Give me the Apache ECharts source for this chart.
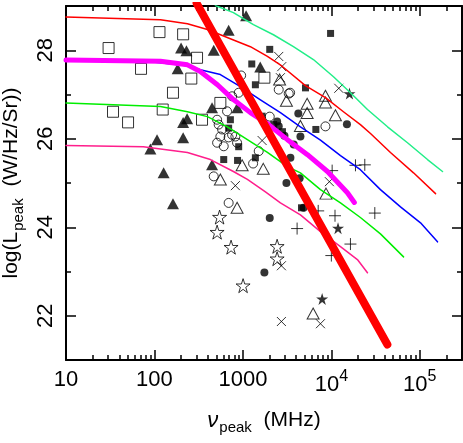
<!DOCTYPE html>
<html><head><meta charset="utf-8">
<script src="https://cdn.jsdelivr.net/npm/echarts@6/dist/echarts.min.js"></script>
<style>html,body{margin:0;padding:0;background:#fff}#c{width:463px;height:443px}</style>
</head><body><div id="c"></div>
<script>
// ---- tick values ----
const xMajorTicks = [10, 100, 1000, 10000, 100000];
const xMinorTicks = [20,30,40,50,60,70,80,90,200,300,400,500,600,700,800,900,2000,3000,4000,5000,6000,7000,8000,9000,20000,30000,40000,50000,60000,70000,80000,90000,200000];
const xTickLabels = {10:'10',100:'100',1000:'1000',10000:'{b|10}{p|4}',100000:'{b|10}{p|5}'};
const yMajorTicks = [22, 24, 26, 28];
const yMinorTicks = [21, 23, 25, 27, 29];

// ---- data points [nu_peak (MHz), log L_peak] ----
const openSquares = [[114,28.41],[211,28.36],[30.3,28.05],[303,27.83],[70.5,27.58],[261,27.36],[162,27.04],[556,26.81],[124,26.66],[34.0,26.61],[50.3,26.37],[345,26.43],[1750,27.38]];
const filledTriangles = [[1087,28.78],[690,28.45],[200,28.05],[230,27.99],[468,28.00],[183,27.58],[1570,27.62],[448,26.70],[865,26.70],[211,26.37],[234,26.45],[211,26.02],[107,25.98],[90,25.77],[127,25.23],[448,25.41],[162,24.53]];
const openCircles = [[955,27.43],[2541,27.11],[3297,27.02],[3420,27.04],[2011,26.50],[8576,26.28],[755,26.96],[896,27.04],[662,26.62],[511,26.43],[532,26.32],[582,26.21],[556,26.05],[511,25.91],[607,25.83],[690,26.03],[822,26.05],[859,25.91],[755,26.09],[1510,25.72],[1304,25.44],[468,25.15],[690,24.55]];
const filledCircles = [[4230,26.57],[15000,26.33],[2437,26.39],[2541,26.28],[4470,26.05],[3755,25.87],[3445,25.57],[3105,25.00],[4380,25.11],[4850,24.44],[2011,24.21],[1750,22.98],[2950,26.07]];
const filledSquares = [[9800,28.38],[2011,28.02],[1260,27.69],[1384,27.22],[5100,27.15],[1649,26.51],[2230,26.32],[6680,26.21],[2800,26.16],[722,26.43],[690,26.24],[896,25.82],[607,25.53],[870,25.51],[1384,25.57],[4600,24.44]];
const openTriangles = [[2600,27.34],[3105,26.86],[5324,26.79],[5324,26.58],[8576,26.97],[8576,26.82],[11120,26.53],[4470,26.29],[980,25.40],[1700,25.32],[556,25.08],[860,24.44],[8700,24.76],[6223,22.05]];
const crosses = [[2541,27.86],[2750,27.63],[2655,27.38],[12130,27.14],[1649,25.96],[822,24.94],[9500,25.03],[2725,23.13],[2725,21.87],[7530,21.82]];
const pluses = [[10210,25.28],[18740,25.40],[23880,25.41],[7100,24.37],[11000,24.26],[30990,24.32],[4100,23.97],[16440,23.62],[10000,23.36]];
const openStars = [[545,24.23],[511,23.89],[735,23.55],[2437,23.57],[2437,23.29],[1005,22.68]];
const filledStars = [[16030,27.02],[11900,23.98],[7870,22.38]];

// ---- model curves ----
const springGreenLine = [[489,29.01],[781,28.85],[1315,28.58],[2214,28.35],[3726,28.08],[6266,27.79],[10570,27.40],[16450,27.04],[25600,26.66],[43150,26.27],[72600,25.91],[122200,25.53],[180600,25.26]];
const redThinLine = [[10,28.75],[117,28.69],[236,28.60],[397,28.47],[721,28.26],[1215,28.08],[1893,27.86],[2725,27.65],[5090,27.20],[8576,26.93],[13700,26.61],[21300,26.32],[27700,26.12],[46600,25.69],[84900,25.23],[150700,24.76]];
const blueLine = [[10,27.77],[90,27.74],[242,27.65],[330,27.56],[556,27.45],[937,27.18],[1578,26.88],[2655,26.59],[4470,26.27],[7530,25.97],[12680,25.62],[21300,25.30],[35900,24.85],[60500,24.46],[101900,24.10],[158500,23.67]];
const greenLine = [[10,26.81],[117,26.73],[236,26.61],[397,26.50],[668,26.27],[1124,25.98],[1893,25.69],[3186,25.37],[4470,25.23],[7530,24.85],[12680,24.55],[21300,24.22],[35900,23.85],[65500,23.33]];
const pinkLine = [[10,25.85],[74.8,25.82],[236,25.69],[429,25.53],[781,25.26],[1124,25.08],[1798,24.80],[2655,24.55],[4470,24.28],[7530,23.90],[12680,23.56],[19700,23.27],[25600,22.97]];
const magentaLine = [[10,27.78],[117,27.75],[236,27.67],[330,27.52],[515,27.22],[787,26.88],[1215,26.59],[1893,26.34],[3186,25.98],[5370,25.64],[9040,25.26],[15200,24.78],[18200,24.56]];
const redThickLine = [[300,29.06],[43000,21.35]];

const FONT = 'Liberation Sans';
const X_MIN = 10, X_MAX = 300000, Y_MIN = 21, Y_MAX = 29;
const STAR = 'path://M50,0L61.2,34.5L97.6,34.5L68.2,55.9L79.4,90.5L50,69.1L20.6,90.5L31.8,55.9L2.4,34.5L38.8,34.5Z';
const CROSS = 'path://M0,0L10,10M10,0L0,10';
const PLUS = 'path://M5,0L5,10M0,5L10,5';

function xAxisDef(pos, ticks, len, showLabel, showLine) {
  return {
    type: 'log', logBase: 10, min: X_MIN, max: X_MAX, position: pos,
    axisLine: { show: showLine, onZero: false, lineStyle: { color: '#000', width: 2 } },
    axisTick: { show: true, inside: true, length: len, customValues: ticks, lineStyle: { color: '#000', width: 1.5 } },
    axisLabel: showLabel ? {
      show: true, customValues: xMajorTicks, margin: 9, color: '#000', fontFamily: FONT, fontSize: 22,
      formatter: v => xTickLabels[Math.round(v)] || '',
      rich: {
        b: { fontFamily: FONT, fontSize: 22, color: '#000', verticalAlign: 'top', padding: [5, 0, 0, 0] },
        p: { fontFamily: FONT, fontSize: 16, color: '#000', verticalAlign: 'top' }
      }
    } : { show: false },
    splitLine: { show: false }, minorTick: { show: false }, minorSplitLine: { show: false }
  };
}
function yAxisDef(pos, ticks, len, showLabel, showLine) {
  return {
    type: 'value', min: Y_MIN, max: Y_MAX, position: pos,
    axisLine: { show: showLine, onZero: false, lineStyle: { color: '#000', width: 2 } },
    axisTick: { show: true, inside: true, length: len, customValues: ticks, lineStyle: { color: '#000', width: 1.5 } },
    axisLabel: showLabel ? { show: true, customValues: yMajorTicks, rotate: 90, margin: 9, color: '#000', fontFamily: FONT, fontSize: 22 } : { show: false },
    splitLine: { show: false }
  };
}

const xAxes = [xAxisDef('bottom', xMajorTicks, 10, true, true), xAxisDef('bottom', xMinorTicks, 5, false, false), xAxisDef('top', xMajorTicks, 10, false, true), xAxisDef('top', xMinorTicks, 5, false, false)];
const yAxes = [yAxisDef('left', yMajorTicks, 10, true, true), yAxisDef('left', yMinorTicks, 5, false, false), yAxisDef('right', yMajorTicks, 10, false, true), yAxisDef('right', yMinorTicks, 5, false, false)];

xAxes[0].name = '{nu|ν}{s|peak}{a|  (MHz)}';
xAxes[0].nameLocation = 'middle';
xAxes[0].nameGap = 50;
xAxes[0].nameTextStyle = { rich: {
  nu: { fontFamily: FONT, fontSize: 22, fontStyle: 'italic', color: '#000', verticalAlign: 'top' },
  s: { fontFamily: FONT, fontSize: 15, color: '#000', verticalAlign: 'top', padding: [10, 0, 0, 1] },
  a: { fontFamily: FONT, fontSize: 21, color: '#000', verticalAlign: 'top' }
}};
yAxes[0].name = '{a|log(L}{s|peak}{a|  (W/Hz/Sr))}';
yAxes[0].nameLocation = 'middle';
yAxes[0].nameRotate = 90;
yAxes[0].nameGap = 40;
yAxes[0].nameTextStyle = { rich: {
  s: { fontFamily: FONT, fontSize: 15, color: '#000', verticalAlign: 'top', padding: [10, 0, 0, 1] },
  a: { fontFamily: FONT, fontSize: 21, color: '#000', verticalAlign: 'top' }
}};

function scatter(data, symbol, size, filled, z) {
  return {
    type: 'scatter', data, symbol, symbolSize: size, z: z || 2, silent: true,
    itemStyle: filled ? { color: '#000', borderWidth: 0 } : { color: 'rgba(0,0,0,0)', borderColor: '#000', borderWidth: 1 }
  };
}
function curve(data, color, width, z) {
  return {
    type: 'line', data, symbol: 'none', z, silent: true, clip: true,
    lineStyle: { color, width, cap: 'round', join: 'round' }
  };
}

const option = {
  animation: false,
  backgroundColor: '#fff',
  grid: { left: 66, right: 1, top: 6, bottom: 83, containLabel: false, outerBoundsMode: 'none' },
  xAxis: xAxes,
  yAxis: yAxes,
  series: [
    scatter(openSquares, 'rect', 11, false),
    scatter(filledTriangles, 'triangle', [12, 11], true),
    scatter(openCircles, 'circle', 9, false),
    scatter(filledCircles, 'circle', 8, true),
    scatter(filledSquares, 'rect', 7, true),
    scatter(openTriangles, 'triangle', [12, 11], false),
    scatter(crosses, CROSS, 9, false),
    scatter(pluses, PLUS, 12, false),
    scatter(openStars, STAR, 14, false),
    scatter(filledStars, STAR, 12, true),
    curve(springGreenLine, '#22ee88', 1.5, 3),
    curve(redThinLine, '#ff0000', 1.5, 3),
    curve(blueLine, '#0000ff', 1.5, 3),
    curve(greenLine, '#00ee00', 1.5, 3),
    curve(pinkLine, '#ff1e8c', 1.5, 3),
    curve(magentaLine, '#ff00ff', 5, 4),
    curve(redThickLine, '#ff0000', 8, 5)
  ]
};
echarts.init(document.getElementById('c'), null, { renderer: 'canvas' }).setOption(option);
</script></body></html>
